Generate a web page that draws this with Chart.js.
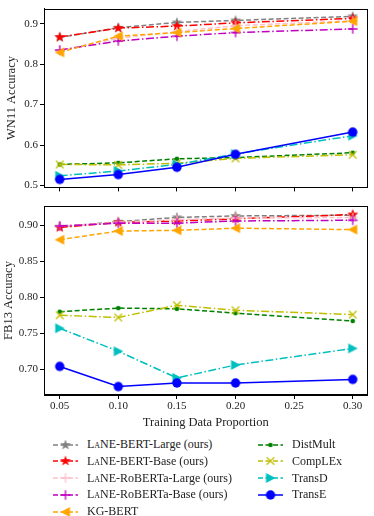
<!DOCTYPE html>
<html>
<head>
<meta charset="utf-8">
<script src="https://cdn.jsdelivr.net/npm/chart.js@4.4.1/dist/chart.umd.min.js"></script>
<style>
body{margin:0;background:#fff;width:374px;height:516px;overflow:hidden;position:relative;font-family:"Liberation Serif",serif;}
canvas.plot{position:absolute;left:0}
#legend{position:absolute;left:0;top:436px;width:374px;font-size:12px;color:#222}
.item{position:absolute;height:17px;display:flex;align-items:center;white-space:nowrap}
.item canvas{margin-right:9px}
.sc{font-variant:small-caps}
</style>
</head>
<body>
<canvas id="wn" class="plot" width="374" height="196" style="top:0"></canvas>
<canvas id="fb" class="plot" width="374" height="236" style="top:196px"></canvas>
<div id="legend"></div>
<script>
// training data proportion
const xs=[0.05,0.10,0.15,0.20,0.30];
const xTicks=[0.05,0.10,0.15,0.20,0.25,0.30];
const wnTicks=[0.5,0.6,0.7,0.8,0.9];
const fbTicks=[0.70,0.75,0.80,0.85,0.90];

const names=["LaNE-BERT-Large (ours)","LaNE-BERT-Base (ours)","LaNE-RoBERTa-Large (ours)","LaNE-RoBERTa-Base (ours)","KG-BERT","DistMult","CompLEx","TransD","TransE"];

// WN11
const wnBertLarge=[0.866,0.890,0.903,0.908,0.918];
const wnBertBase=[0.867,0.889,0.894,0.902,0.913];
const wnRobLarge=[0.833,0.864,0.880,0.895,0.907];
const wnRobBase=[0.835,0.857,0.869,0.878,0.887];
const wnKgBert=[0.829,0.869,0.878,0.888,0.906];
const wnDistMult=[0.552,0.556,0.566,0.569,0.581];
const wnComplEx=[0.552,0.551,0.555,0.567,0.576];
const wnTransD=[0.524,0.536,0.552,0.578,0.623];
const wnTransE=[0.515,0.527,0.545,0.577,0.632];

// FB13
const fbBertLarge=[0.898,0.905,0.911,0.913,0.914];
const fbBertBase=[0.897,0.904,0.906,0.909,0.915];
const fbRobLarge=[0.899,0.904,0.908,0.910,0.911];
const fbRobBase=[0.899,0.903,0.903,0.906,0.907];
const fbKgBert=[0.880,0.892,0.893,0.896,0.894];
const fbDistMult=[0.780,0.785,0.784,0.778,0.767];
const fbComplEx=[0.775,0.772,0.789,0.782,0.776];
const fbTransD=[0.757,0.725,0.688,0.706,0.729];
const fbTransE=[0.704,0.676,0.681,0.681,0.686];

const DASH=[5,2.5], DOT=[8,2.5,1.5,2.5];
const styles=[
  {color:"#808080",dash:DASH,mk:"star"},
  {color:"#ff0000",dash:DOT,mk:"star"},
  {color:"#ffc0cb",dash:DASH,mk:"plus"},
  {color:"#bf00bf",dash:DOT,mk:"plus"},
  {color:"#ffa500",dash:DASH,mk:"left"},
  {color:"#008000",dash:DASH,mk:"dot"},
  {color:"#bfbf00",dash:DOT,mk:"x"},
  {color:"#00bfbf",dash:DOT,mk:"right"},
  {color:"#0000ff",dash:[],mk:"circle"}
];

function marker(kind,color){
  const c=document.createElement("canvas");c.width=c.height=12;
  const g=c.getContext("2d");g.fillStyle=color;g.strokeStyle=color;g.lineWidth=1.3;
  g.translate(6,6);
  if(kind==="star"){
    g.beginPath();
    for(let i=0;i<10;i++){const r=i%2?2.3:5.6,a=-Math.PI/2+i*Math.PI/5;g.lineTo(r*Math.cos(a),r*Math.sin(a));}
    g.closePath();g.fill();
  }else if(kind==="plus"){
    g.beginPath();g.moveTo(-4.8,0);g.lineTo(4.8,0);g.moveTo(0,-4.8);g.lineTo(0,4.8);g.stroke();
  }else if(kind==="x"){
    g.beginPath();g.moveTo(-3.8,-3.8);g.lineTo(3.8,3.8);g.moveTo(-3.8,3.8);g.lineTo(3.8,-3.8);g.stroke();
  }else if(kind==="left"||kind==="right"){
    const s=kind==="left"?1:-1;
    g.beginPath();g.moveTo(-5*s,0);g.lineTo(4.5*s,-5);g.lineTo(4.5*s,5);g.closePath();g.fill();
  }else if(kind==="dot"){
    g.beginPath();g.arc(0,0,2.3,0,Math.PI*2);g.fill();
  }else{
    g.beginPath();g.arc(0,0,4.7,0,Math.PI*2);g.fill();
  }
  return c;
}
const markers=styles.map(s=>marker(s.mk,s.color));

const boxPlugin={id:"box",afterDraw(ch){
  const a=ch.chartArea,g=ch.ctx;g.save();g.strokeStyle="#000";g.lineWidth=1;
  g.strokeRect(Math.round(a.left)+0.5,Math.round(a.top)+0.5,Math.round(a.right-a.left)-1,Math.round(a.bottom-a.top)-1);g.restore();
}};

const font={family:"'Liberation Serif', serif",size:11};
const titleFont={family:"'Liberation Serif', serif",size:12.5};

function makeChart(id,series,yTicks,yMin,yMax,yTitle,dec,titlePad,showX,padTop,xH){
  const datasets=series.map((d,i)=>({
    label:names[i],
    data:xs.map((x,j)=>({x,y:d[j]})),
    borderColor:styles[i].color,backgroundColor:styles[i].color,
    borderDash:styles[i].dash,borderWidth:1.5,
    pointStyle:markers[i],pointRadius:5,
    order:series.length-i
  }));
  return new Chart(document.getElementById(id),{
    type:"line",
    data:{datasets},
    plugins:[boxPlugin],
    options:{
      responsive:false,animation:false,
      layout:{padding:{top:padTop,right:4,left:0,bottom:0}},
      plugins:{legend:{display:false},tooltip:{enabled:false}},
      scales:{
        x:{type:"linear",min:0.0366,max:0.3126,
          afterBuildTicks:s=>{s.ticks=xTicks.map(v=>({value:v}))},
          afterFit:s=>{s.height=xH},
          grid:{drawOnChartArea:false,tickLength:4,color:"#000"},
          border:{color:"#000"},
          ticks:{display:showX,font,color:"#222",padding:1,maxRotation:0,callback:v=>v.toFixed(2)},
          title:{display:showX,text:"Training Data Proportion",font:titleFont,color:"#222",padding:{top:1,bottom:2}}
        },
        y:{min:yMin,max:yMax,
          afterBuildTicks:s=>{s.ticks=yTicks.map(v=>({value:v}))},
          afterFit:s=>{s.width=44},
          grid:{drawOnChartArea:false,tickLength:4,color:"#000"},
          border:{color:"#000"},
          ticks:{font,color:"#222",padding:2,callback:v=>v.toFixed(dec)},
          title:{display:true,text:yTitle,font:titleFont,color:"#222",padding:{top:titlePad,bottom:0}}
        }
      }
    }
  });
}

makeChart("wn",[wnBertLarge,wnBertBase,wnRobLarge,wnRobBase,wnKgBert,wnDistMult,wnComplEx,wnTransD,wnTransE],
  wnTicks,0.4953,0.9372,"WN11 Accuracy",1,4,false,1,6);
makeChart("fb",[fbBertLarge,fbBertBase,fbRobLarge,fbRobBase,fbKgBert,fbDistMult,fbComplEx,fbTransD,fbTransE],
  fbTicks,0.6643,0.9268,"FB13 Accuracy",2,1,true,10,37);

// legend
const leg=document.getElementById("legend");
names.forEach((n,i)=>{
  const col=i<5?0:1,row=i<5?i:i-5;
  const it=document.createElement("div");it.className="item";
  it.style.left=(col?258:53)+"px";it.style.top=(row*16.8)+"px";
  const c=document.createElement("canvas");c.width=25;c.height=12;
  const g=c.getContext("2d");g.strokeStyle=styles[i].color;g.lineWidth=1.5;
  g.setLineDash(i===8?[]:[5,2.5]);
  g.beginPath();g.moveTo(0,6);g.lineTo(25,6);g.stroke();
  g.drawImage(markers[i],6.5,0);
  it.appendChild(c);
  const t=document.createElement("span");
  t.innerHTML=n.replace("LaNE",'<span class="sc">LaNE</span>');
  it.appendChild(t);
  leg.appendChild(it);
});
</script>
</body>
</html>
